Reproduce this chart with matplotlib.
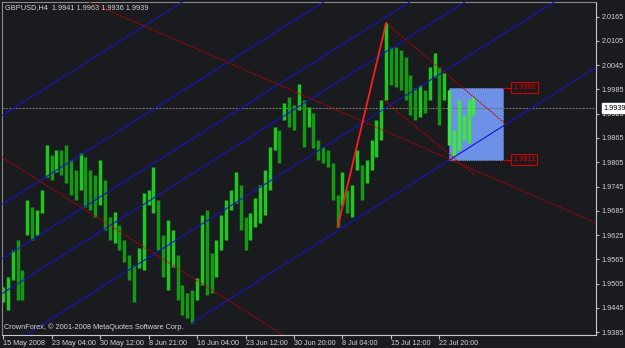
import matplotlib
matplotlib.use('Agg')
import matplotlib.pyplot as plt
from matplotlib.patches import Rectangle

# GBPUSD H4 bars, one entry per bar
bar_high = [1.9497, 1.9521, 1.9588, 1.9613, 1.9539, 1.9712, 1.9694, 1.9687, 1.9737, 1.9848,
            1.9823, 1.9835, 1.9835, 1.9848, 1.9811, 1.9786, 1.9828, 1.9818, 1.9786, 1.9774,
            1.9811, 1.9761, 1.9670, 1.9682, 1.9650, 1.9613, 1.9576, 1.9551, 1.9593, 1.9729,
            1.9737, 1.9793, 1.9712, 1.9625, 1.9662, 1.9638, 1.9576, 1.9502, 1.9482, 1.9489,
            1.9519, 1.9675, 1.9687, 1.9581, 1.9613, 1.9675, 1.9712, 1.9737, 1.9781, 1.9749,
            1.9670, 1.9680, 1.9717, 1.9749, 1.9786, 1.9843, 1.9892, 1.9885, 1.9952, 1.9966,
            1.9947, 1.9999, 1.9959, 1.9942, 1.9927, 1.9860, 1.9843, 1.9835, 1.9803, 1.9724,
            1.9781, 1.9737, 1.9749, 1.9835, 1.9798, 1.9811, 1.9860, 1.9910, 1.9959, 2.0149,
            2.0090, 2.0090, 2.0083, 2.0065, 2.0021, 1.9989, 1.9996, 1.9984, 2.0041, 2.0075,
            2.0041, 2.0026, 1.9984, 1.9885, 1.9959, 1.9922, 1.9959, 1.9966]
bar_low = [1.9460, 1.9440, 1.9514, 1.9464, 1.9464, 1.9625, 1.9613, 1.9625, 1.9680, 1.9769,
           1.9761, 1.9781, 1.9774, 1.9754, 1.9724, 1.9712, 1.9737, 1.9694, 1.9687, 1.9670,
           1.9699, 1.9638, 1.9613, 1.9605, 1.9588, 1.9558, 1.9514, 1.9460, 1.9544, 1.9539,
           1.9699, 1.9680, 1.9588, 1.9521, 1.9489, 1.9546, 1.9464, 1.9427, 1.9420, 1.9408,
           1.9464, 1.9502, 1.9477, 1.9482, 1.9521, 1.9588, 1.9613, 1.9687, 1.9704, 1.9638,
           1.9588, 1.9613, 1.9645, 1.9655, 1.9675, 1.9737, 1.9835, 1.9803, 1.9910, 1.9892,
           1.9885, 1.9934, 1.9843, 1.9892, 1.9840, 1.9811, 1.9803, 1.9793, 1.9712, 1.9645,
           1.9699, 1.9680, 1.9670, 1.9786, 1.9712, 1.9754, 1.9786, 1.9818, 1.9860, 1.9959,
           1.9996, 1.9991, 1.9984, 1.9959, 1.9922, 1.9910, 1.9917, 1.9927, 1.9959, 2.0016,
           1.9897, 1.9959, 1.9848, 1.9818, 1.9835, 1.9860, 1.9853, 1.9922]

time_ticks = [0, 10, 20, 30, 40, 50, 60, 70, 80, 90]
time_labels = ['15 May 2008', '23 May 04:00', '30 May 12:00', '8 Jun 21:00', '16 Jun 04:00',
               '23 Jun 12:00', '30 Jun 20:00', '8 Jul 04:00', '15 Jul 12:00', '22 Jul 20:00']
price_ticks = [1.9385, 1.9445, 1.9505, 1.9565, 1.9625, 1.9685, 1.9745, 1.9805,
               1.9865, 1.9925, 1.9985, 2.0045, 2.0105, 2.0165]

bid = 1.9939
header = 'GBPUSD,H4  1.9941 1.9963 1.9936 1.9939'

# blue channel lines: price at bar 0 and bar 40
chan_a = [1.9922, 1.9702, 1.9568, 1.9482, 1.9343]
chan_b = [2.0224, 2.0004, 1.9870, 1.9784, 1.9645]
# ray from the low
ray_x = [39, 122.3]
ray_y = [1.9408, 2.0040]

# red trend lines (two anchor points each)
red_lines = [((61.2, 1.9974), (90.1, 1.9823)),
             ((0.0, 1.9816), (57.7, 1.9378))]
red_segs = [([78.4, 97.3], [1.9959, 1.9773]),
            ([79.0, 103.9], [2.0149, 1.9897])]
zz_x = [69, 79]
zz_y = [1.9645, 2.0149]

# rectangle object
rect_x = [91.9, 103.1]
rect_top = 1.9989
rect_bottom = 1.9811

BG = '#1a1b1f'
FG = '#d4d4d4'
plt.rcParams['font.family'] = ['Liberation Sans', 'DejaVu Sans']

fig = plt.figure(figsize=(6.25, 3.48), dpi=100)
fig.set_facecolor(BG)
ax = fig.add_axes([1.7 / 625, 13 / 348, 594.3 / 625, 333 / 348])
ax.set_facecolor(BG)
ax.set_xlim(-0.27, 122.27)
ax.set_ylim(1.9378, 2.0201)

ax.add_patch(Rectangle((rect_x[0], rect_bottom), rect_x[1] - rect_x[0], rect_top - rect_bottom,
                       facecolor='#6d91e6', edgecolor='#8aa6ea', lw=0.6, ls=':', zorder=1))

prev_mid = None
for i, (h, l) in enumerate(zip(bar_high, bar_low)):
    mid = (h + l) / 2
    if i >= rect_x[0]:
        col = '#3ee63e'
    elif prev_mid is None or mid >= prev_mid:
        col = '#1fc81f'
    else:
        col = '#129a12'
    ax.vlines(i, l, h, color=col, lw=2.5, zorder=2)
    prev_mid = mid

for a, b in zip(chan_a, chan_b):
    ax.axline((0, a), (40, b), color='#1414c8', lw=0.8, zorder=3)
ax.plot(ray_x, ray_y, color='#1414c8', lw=0.8, zorder=3)

for p1, p2 in red_lines:
    ax.axline(p1, p2, color='#c00000', lw=0.8, ls=(0, (1.5, 1)), zorder=3)
for xs, ys in red_segs:
    ax.plot(xs, ys, color='#c00000', lw=0.8, ls=(0, (1.5, 1)), zorder=3)
ax.plot(zz_x, zz_y, color='#ff1e1e', lw=1.3, zorder=4)

ax.axhline(bid, color='#707070', lw=0.8, ls=(0, (2, 1)), zorder=1.5)

for p in (rect_top, rect_bottom):
    ax.plot([rect_x[1], rect_x[1] + 2], [p, p], color='#d00000', lw=0.8, zorder=3)
    ax.text(rect_x[1] + 2.1, p, f'{p:.4f}', color='#e00000', fontsize=5.2, ha='left', va='center',
            bbox=dict(boxstyle='square,pad=0.25', facecolor=BG, edgecolor='#d00000', lw=0.8), zorder=5)

ax.yaxis.tick_right()
ax.set_yticks(price_ticks)
ax.set_yticklabels([f'{p:.4f}' for p in price_ticks])
ax.set_xticks(time_ticks)
ax.set_xticklabels(time_labels)
for lbl in ax.get_xticklabels():
    lbl.set_ha('left')
ax.tick_params(axis='y', length=2, width=0.8, color='#c0c0c0', labelcolor=FG, labelsize=5.2, pad=2)
ax.tick_params(axis='x', length=3, width=0.8, color='#c0c0c0', labelcolor=FG, labelsize=5.2, pad=0.5)

for side in ('left', 'top'):
    ax.spines[side].set_color('#8a8a8a')
    ax.spines[side].set_linewidth(0.8)
ax.spines['top'].set_linestyle((0, (2, 1)))
for side in ('right', 'bottom'):
    ax.spines[side].set_color('#c8c8c8')
    ax.spines[side].set_linewidth(0.8)

ax.text(1.012, (bid - 1.9378) / (2.0201 - 1.9378), f'{bid:.4f}', transform=ax.transAxes,
        fontsize=5.2, color='black', ha='left', va='center',
        bbox=dict(boxstyle='square,pad=0.2', facecolor='white', edgecolor='white'), zorder=6)

fig.text(5 / 625, 1 - 7.5 / 348, header, color=FG, fontsize=5.3, ha='left', va='center')
fig.text(4 / 625, 1 - 327.5 / 348, 'CrownForex, \u00a9 2001-2008 MetaQuotes Software Corp.',
         color=FG, fontsize=5.3, ha='left', va='center')

fig.savefig('out.png', dpi=100, facecolor=BG)
